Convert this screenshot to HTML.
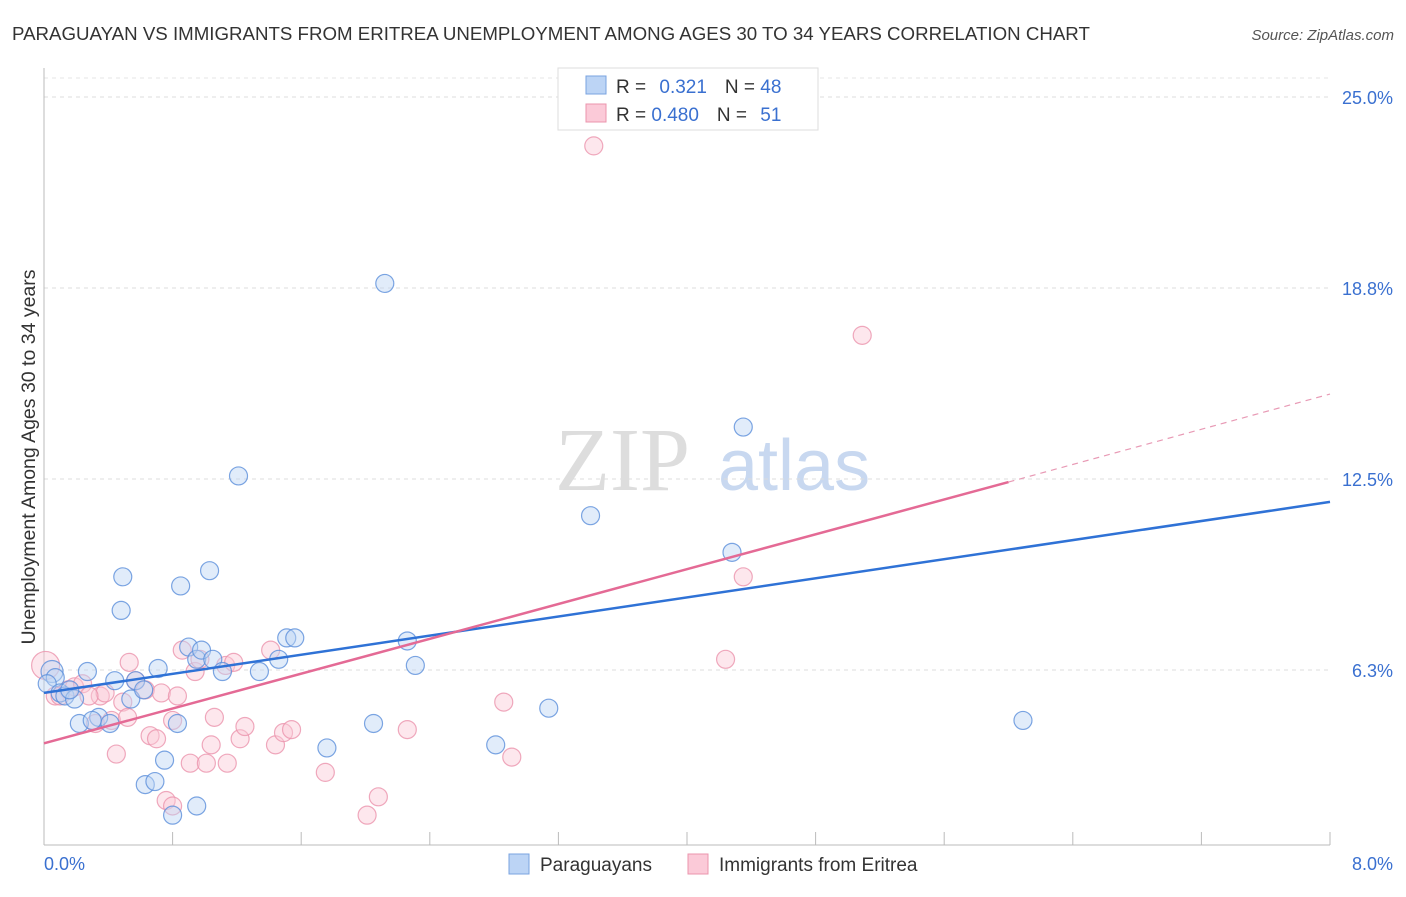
<!DOCTYPE html>
<html><head><meta charset="utf-8"><style>
body{margin:0;background:#fff;font-family:"Liberation Sans",sans-serif}
</style></head><body>
<svg id="c" width="1406" height="892" xmlns="http://www.w3.org/2000/svg" style="font-family:'Liberation Sans',sans-serif">
<text x="12" y="40" font-size="18.7" fill="#333">PARAGUAYAN VS IMMIGRANTS FROM ERITREA UNEMPLOYMENT AMONG AGES 30 TO 34 YEARS CORRELATION CHART</text>
<text x="1394" y="40" font-size="15" fill="#555" font-style="italic" text-anchor="end">Source: ZipAtlas.com</text>
<text x="35" y="457" font-size="19.5" fill="#333" text-anchor="middle" transform="rotate(-90 35 457)">Unemployment Among Ages 30 to 34 years</text>
<text x="555" y="490" font-size="90" fill="#ddd" font-family="Liberation Serif">ZIP</text>
<text x="718" y="490" font-size="72" fill="#c8d8f0">atlas</text>
<g id="grid"></g><g id="axes"></g><g id="pts"></g><g id="lines"></g>
<g>
<rect x="558" y="68" width="260" height="62" fill="#fff" stroke="#ddd"/>
<rect x="586" y="76" width="20" height="18" fill="#bcd4f5" stroke="#7aa3e0"/>
<rect x="586" y="104" width="20" height="18" fill="#fbcad8" stroke="#eb94ad"/>
<text x="616" y="93" font-size="19" fill="#333">R = <tspan fill="#3a70d0" dx="8">0.321</tspan><tspan dx="18" fill="#333">N = </tspan><tspan fill="#3a70d0">48</tspan></text>
<text x="616" y="121" font-size="19" fill="#333">R = <tspan fill="#3a70d0">0.480</tspan><tspan dx="18" fill="#333">N = </tspan><tspan fill="#3a70d0" dx="8">51</tspan></text>
</g>
<g>
<rect x="509" y="854" width="20" height="20" fill="#bcd4f5" stroke="#7aa3e0"/>
<text x="540" y="871" font-size="19" fill="#333">Paraguayans</text>
<rect x="688" y="854" width="20" height="20" fill="#fbcad8" stroke="#eb94ad"/>
<text x="719" y="871" font-size="19" fill="#333">Immigrants from Eritrea</text>
</g>
</svg>
<script>
const yTicks=[6.25,12.5,18.75,25];
const yTickLabels=["6.3%","12.5%","18.8%","25.0%"];
const xTickCount=11;
const blueX=[0.05,0.07,0.02,0.27,0.1,0.13,0.19,0.22,0.34,0.41,0.44,0.49,0.48,0.54,0.57,0.62,0.71,0.75,0.63,0.69,0.8,0.85,0.83,0.9,0.95,0.98,1.03,1.05,0.95,1.11,1.21,1.34,1.46,1.51,1.56,1.76,2.05,2.12,2.26,2.31,2.81,3.14,3.4,4.28,4.35,6.09,0.16,0.3];
const blueY=[6.2,6.0,5.8,6.2,5.5,5.4,5.3,4.5,4.7,4.5,5.9,9.3,8.2,5.3,5.9,5.6,6.3,3.3,2.5,2.6,1.5,9.0,4.5,7.0,6.6,6.9,9.5,6.6,1.8,6.2,12.6,6.2,6.6,7.3,7.3,3.7,4.5,18.9,7.2,6.4,3.8,5.0,11.3,10.1,14.2,4.6,5.6,4.6];
const pinkX=[0.01,0.07,0.15,0.19,0.24,0.35,0.38,0.42,0.45,0.49,0.53,0.57,0.63,0.66,0.7,0.73,0.76,0.8,0.83,0.86,0.91,0.94,1.01,1.04,1.06,1.13,1.14,1.18,1.22,1.25,1.41,1.44,1.49,1.54,1.75,2.01,2.08,2.26,2.86,2.91,3.42,4.24,4.35,5.09,0.32,0.28,0.52,0.97,0.8,0.1];
const pinkY=[6.4,5.4,5.6,5.7,5.8,5.4,5.5,4.6,3.5,5.2,6.5,5.9,5.6,4.1,4.0,5.5,1.98,4.6,5.4,6.9,3.2,6.2,3.2,3.8,4.7,6.4,3.2,6.5,4.0,4.4,6.9,3.8,4.2,4.3,2.9,1.5,2.1,4.3,5.2,3.4,23.4,6.6,9.3,17.2,4.5,5.4,4.7,6.6,1.8,5.4];
const blueLine=[[0,5.5],[8,11.75]];
const pinkLine=[[0,3.85],[6,12.4],[8,15.28]];
const NS="http://www.w3.org/2000/svg";
const X=v=>44+v/8*1286, Y=v=>861-v*30.56;
function mk(t,a,p){const e=document.createElementNS(NS,t);for(const k in a)e.setAttribute(k,a[k]);document.getElementById(p).appendChild(e);return e;}
yTicks.forEach((t,i)=>{let g=mk('line',{x1:44,x2:1330,y1:Y(t),y2:Y(t),stroke:'#ddd','stroke-dasharray':'4,4'},'grid');


let l=mk('text',{x:1393,y:Y(t)+7,'font-size':18,fill:'#3a70d0','text-anchor':'end'},'axes');l.textContent=yTickLabels[i];

});
let tg=mk('line',{x1:44,x2:1330,y1:78,y2:78,stroke:'#e6e6e6','stroke-dasharray':'4,4'},'grid');
mk('line',{x1:44,x2:44,y1:68,y2:845,stroke:'#bbb'},'axes');
mk('line',{x1:44,x2:1330,y1:845,y2:845,stroke:'#bbb'},'axes');
for(let i=0;i<xTickCount;i++){let t=mk('line',{x1:X(i*0.8),x2:X(i*0.8),y1:832,y2:845,stroke:'#bbb'},'axes');

}
let a=mk('text',{x:44,y:870,'font-size':18,fill:'#3a70d0'},'axes');a.textContent='0.0%';

let b=mk('text',{x:1393,y:870,'font-size':18,fill:'#3a70d0','text-anchor':'end'},'axes');b.textContent='8.0%';

function pts(xs,ys,f,s,n){xs.forEach((x,i)=>{let r=(i==0&&n=='pink')?14:(i==0?11:9);let c=mk('circle',{cx:X(x),cy:Y(ys[i]),r:r,fill:f,'fill-opacity':0.45,stroke:s,'stroke-opacity':0.8,'stroke-width':1.2},'pts');

});}
pts(pinkX,pinkY,'#fbcad8','#eb94ad','pink');
pts(blueX,blueY,'#bcd4f5','#5b8fdb','blue');
let bl=mk('line',{x1:X(blueLine[0][0]),y1:Y(blueLine[0][1]),x2:X(blueLine[1][0]),y2:Y(blueLine[1][1]),stroke:'#2f72d6','stroke-width':2.5},'lines');


let pl=mk('line',{x1:X(pinkLine[0][0]),y1:Y(pinkLine[0][1]),x2:X(pinkLine[1][0]),y2:Y(pinkLine[1][1]),stroke:'#e46a95','stroke-width':2.5},'lines');


let pd=mk('line',{x1:X(pinkLine[1][0]),y1:Y(pinkLine[1][1]),x2:X(pinkLine[2][0]),y2:Y(pinkLine[2][1]),stroke:'#e89ab5','stroke-width':1.2,'stroke-dasharray':'6,5'},'lines');


</script>
</body></html>
